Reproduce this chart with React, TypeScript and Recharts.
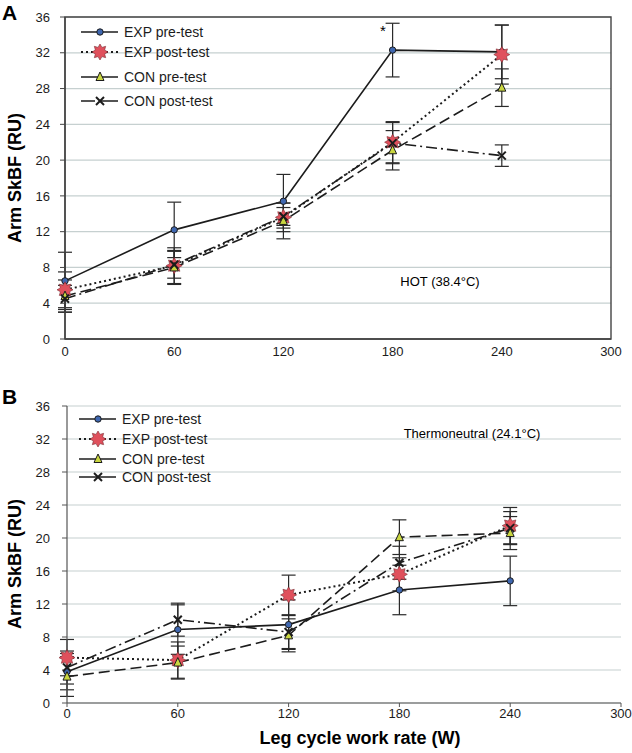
import React from "react";
import { CartesianGrid, ErrorBar, Line, LineChart, ReferenceArea, XAxis, YAxis } from "recharts";

const workRate = [0, 60, 120, 180, 240];
const xTicks = [0, 60, 120, 180, 240, 300];
const yTicks = [0, 4, 8, 12, 16, 20, 24, 28, 32, 36];

// HOT (38.4°C)
const hotExpPre = [6.5, 12.2, 15.4, 32.3, 32.1];
const hotExpPreErr = [3.2, 3.1, 3.0, 3.0, 3.0];
const hotExpPost = [5.5, 8.2, 13.6, 22.0, 31.8];
const hotExpPostErr = [2.0, 2.0, 1.6, 2.3, 3.3];
const hotConPre = [4.8, 8.0, 13.2, 21.1, 28.1];
const hotConPreErr = [1.8, 1.9, 2.0, 2.2, 2.1];
const hotConPost = [4.5, 8.3, 13.7, 21.9, 20.5];
const hotConPostErr = [1.5, 1.5, 1.0, 2.3, 1.2];

// Thermoneutral (24.1°C)
const neuExpPre = [3.8, 8.9, 9.5, 13.7, 14.8];
const neuExpPreErr = [2.2, 3.0, 3.0, 3.0, 3.0];
const neuExpPost = [5.5, 5.2, 13.1, 15.6, 21.5];
const neuExpPostErr = [2.2, 2.2, 2.4, 2.0, 2.2];
const neuConPre = [3.2, 4.9, 8.2, 20.1, 20.6];
const neuConPreErr = [2.4, 2.0, 2.0, 2.1, 2.0];
const neuConPost = [4.3, 10.1, 8.6, 17.0, 21.2];
const neuConPostErr = [2.0, 2.0, 2.0, 2.0, 2.0];

const seriesNames = ["EXP pre-test", "EXP post-test", "CON pre-test", "CON post-test"];

const FONT = "'Liberation Sans', Arial, sans-serif";
const INK = "#1c1c1c";
const GRID = "#c6d0d0";

function build(a: number[], ae: number[], b: number[], be: number[], c: number[], ce: number[], d: number[], de: number[]) {
  return workRate.map((w, i) => ({
    w,
    expPre: a[i], expPreErr: ae[i],
    expPost: b[i], expPostErr: be[i],
    conPre: c[i], conPreErr: ce[i],
    conPost: d[i], conPostErr: de[i],
  }));
}

const hotRows = build(hotExpPre, hotExpPreErr, hotExpPost, hotExpPostErr, hotConPre, hotConPreErr, hotConPost, hotConPostErr);
const neuRows = build(neuExpPre, neuExpPreErr, neuExpPost, neuExpPostErr, neuConPre, neuConPreErr, neuConPost, neuConPostErr);

function starPoints(cx: number, cy: number, ro: number, ri: number, n: number) {
  const pts: string[] = [];
  for (let k = 0; k < n * 2; k++) {
    const r = k % 2 === 0 ? ro : ri;
    const a = (Math.PI * k) / n - Math.PI / 2;
    pts.push(`${cx + r * Math.cos(a)},${cy + r * Math.sin(a)}`);
  }
  return pts.join(" ");
}

function Marker({ kind, cx, cy }: { kind: number; cx: number; cy: number }) {
  if (kind === 0) return <circle cx={cx} cy={cy} r={3.2} fill="#3f67b0" stroke={INK} strokeWidth={1} />;
  if (kind === 1) return <polygon points={starPoints(cx, cy, 8, 5, 8)} fill="#e0505c" stroke="#7a2a30" strokeWidth={0.6} />;
  if (kind === 2)
    return <polygon points={`${cx},${cy - 5} ${cx - 4},${cy + 3.5} ${cx + 4},${cy + 3.5}`} fill="#c9d640" stroke={INK} strokeWidth={1} />;
  return (
    <g stroke={INK} strokeWidth={2}>
      <line x1={cx - 4} y1={cy - 4} x2={cx + 4} y2={cy + 4} />
      <line x1={cx - 4} y1={cy + 4} x2={cx + 4} y2={cy - 4} />
    </g>
  );
}

const keys = ["expPre", "expPost", "conPre", "conPost"];
const dashes = [undefined, "2 3", "11 5", "11 4 2 4"];

function seriesLines() {
  return keys.map((k, i) => (
    <Line
      key={k}
      dataKey={k}
      name={seriesNames[i]}
      type="linear"
      stroke={INK}
      strokeWidth={i === 1 ? 2 : 1.6}
      strokeDasharray={dashes[i]}
      isAnimationActive={false}
      dot={(p: any) => <Marker key={`${k}-${p.index}`} kind={i} cx={p.cx} cy={p.cy} />}
      activeDot={false}
    >
      <ErrorBar dataKey={`${k}Err`} direction="y" width={7} stroke="#2a2a2a" strokeWidth={1.2} />
    </Line>
  ));
}

function LegendBox({ top, left, rows, dashed }: { top: number; left: number; rows: number[]; dashed: boolean }) {
  return (
    <div style={{ position: "absolute", top, left, fontFamily: FONT, fontSize: 14, color: INK }}>
      {seriesNames.map((n, i) => (
        <div key={n} style={{ position: "absolute", top: rows[i] - 9, left: 0, display: "flex", alignItems: "center", whiteSpace: "nowrap" }}>
          <svg width={40} height={18}>
            <line x1={1} y1={9} x2={38} y2={9} stroke={INK} strokeWidth={i === 1 ? 2 : 1.6} strokeDasharray={i === 1 ? "2 3" : dashed && i === 3 ? "14 6 8 0" : undefined} />
            <Marker kind={i} cx={20} cy={9} />
          </svg>
          <span style={{ marginLeft: 4 }}>{n}</span>
        </div>
      ))}
    </div>
  );
}

const tickStyle = { fill: INK, fontSize: 13, fontFamily: FONT };

export default function App() {
  return (
    <div style={{ position: "absolute", left: 0, top: 0, width: 632, height: 753, background: "#fff", fontFamily: FONT }}>
      <div style={{ position: "absolute", left: 0, top: 0 }}>
        <LineChart width={632} height={370} data={hotRows} margin={{ top: 17, right: 21, bottom: 6, left: 25 }}>
          <CartesianGrid stroke={GRID} vertical={false} strokeWidth={1.2} />
          <XAxis dataKey="w" type="number" domain={[0, 300]} ticks={xTicks} height={25} tick={tickStyle} tickLine={false} tickSize={5} tickMargin={3} axisLine={{ stroke: "#444", strokeWidth: 1.4 }} />
          <YAxis type="number" domain={[0, 36]} ticks={yTicks} width={40} tick={tickStyle} tickSize={5} tickMargin={10} tickLine={{ stroke: "#444" }} axisLine={{ stroke: "#444", strokeWidth: 1.4 }} />
          <ReferenceArea x1={0} x2={300} y1={0} y2={36} fill="none" stroke="#444" strokeWidth={1.4} ifOverflow="visible" />
          {seriesLines()}
        </LineChart>
      </div>
      <div style={{ position: "absolute", left: 0, top: 370 }}>
        <LineChart width={632} height={383} data={neuRows} margin={{ top: 36, right: 11, bottom: 25, left: 27 }}>
          <CartesianGrid stroke={GRID} vertical={false} strokeWidth={1.2} />
          <XAxis dataKey="w" type="number" domain={[0, 300]} ticks={xTicks} height={25} tick={tickStyle} tickSize={4} tickMargin={2} tickLine={{ stroke: "#555" }} axisLine={{ stroke: "#555", strokeWidth: 1.2 }} />
          <YAxis type="number" domain={[0, 36]} ticks={yTicks} width={40} tick={tickStyle} tickSize={5} tickMargin={12} tickLine={{ stroke: "#555" }} axisLine={{ stroke: "#555", strokeWidth: 1.2 }} />
          {seriesLines()}
        </LineChart>
      </div>

      <LegendBox top={0} left={80} rows={[32, 52, 77, 101]} dashed={true} />
      <LegendBox top={370} left={78} rows={[49, 69, 89, 107]} dashed={false} />

      <div style={{ position: "absolute", left: 2, top: 1, fontSize: 21, fontWeight: "bold", lineHeight: "24px" }}>A</div>
      <div style={{ position: "absolute", left: 2, top: 385, fontSize: 21, fontWeight: "bold", lineHeight: "24px" }}>B</div>

      <div style={{ position: "absolute", left: 15, top: 178, transform: "translate(-50%, -50%) rotate(-90deg)", fontSize: 18, fontWeight: "bold", whiteSpace: "nowrap" }}>Arm SkBF (RU)</div>
      <div style={{ position: "absolute", left: 15, top: 564, transform: "translate(-50%, -50%) rotate(-90deg)", fontSize: 18, fontWeight: "bold", whiteSpace: "nowrap" }}>Arm SkBF (RU)</div>
      <div style={{ position: "absolute", left: 360, top: 738, transform: "translate(-50%, -50%)", fontSize: 18, fontWeight: "bold", whiteSpace: "nowrap" }}>Leg cycle work rate (W)</div>

      <div style={{ position: "absolute", left: 440, top: 281, transform: "translate(-50%, -50%)", fontSize: 13, whiteSpace: "nowrap" }}>HOT (38.4°C)</div>
      <div style={{ position: "absolute", left: 472, top: 433, transform: "translate(-50%, -50%)", fontSize: 13, whiteSpace: "nowrap" }}>Thermoneutral (24.1°C)</div>
      <div style={{ position: "absolute", left: 383, top: 30, transform: "translate(-50%, -50%)", fontSize: 15, whiteSpace: "nowrap" }}>*</div>
    </div>
  );
}
